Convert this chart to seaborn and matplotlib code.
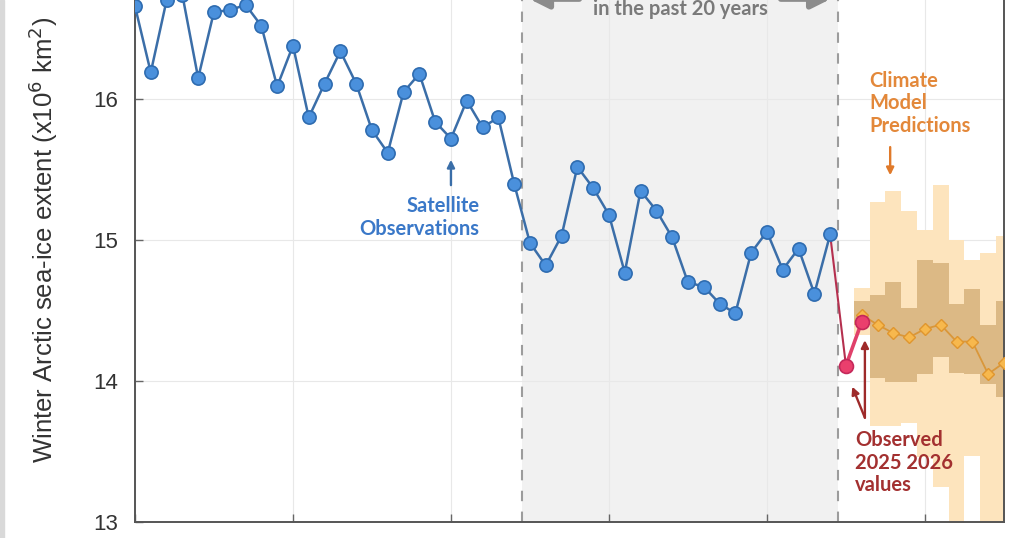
import numpy as np
import matplotlib
matplotlib.use("Agg")
import matplotlib.pyplot as plt
from matplotlib.patches import Rectangle
import seaborn as sns

# satellite observations (winter extent, million km2)
obs_years = list(range(1980, 2025))
obs_extent = [16.66, 16.19, 16.70, 16.74, 16.15, 16.62, 16.63, 16.67, 16.52, 16.09,
              16.38, 15.87, 16.11, 16.34, 16.11, 15.78, 15.62, 16.05, 16.18, 15.84,
              15.72, 15.99, 15.80, 15.87, 15.40, 14.98, 14.82, 15.03, 15.52, 15.37,
              15.18, 14.77, 15.35, 15.21, 15.02, 14.70, 14.67, 14.55, 14.48, 14.91,
              15.06, 14.79, 14.94, 14.62, 15.04]

# newest observed winters
new_years = [2025, 2026]
new_extent = [14.11, 14.42]

# climate model predictions
model_years = list(range(2026, 2036))
model_mean = [14.47, 14.40, 14.34, 14.31, 14.37, 14.40, 14.28, 14.28, 14.05, 14.13]
light_hi = [14.66, 15.27, 15.35, 15.21, 15.07, 15.39, 15.00, 14.86, 14.91, 15.03]
light_lo = [14.33, 13.68, 13.68, 13.70, 13.46, 13.25, 12.90, 13.47, 12.90, 12.90]
dark_hi = [14.57, 14.61, 14.70, 14.52, 14.86, 14.84, 14.55, 14.65, 14.40, 14.57]
dark_lo = [14.40, 14.02, 13.99, 13.99, 14.05, 14.17, 14.06, 14.05, 13.98, 13.89]

recent_window = (2004.5, 2024.5)
x_ticks = [1980, 1990, 2000, 2010, 2020, 2030]
y_ticks = [13, 14, 15, 16]

sns.set_theme(style="white")
plt.rcParams['font.family'] = ['Liberation Sans', 'DejaVu Sans']

fig = plt.figure(figsize=(10.24, 5.38), dpi=100)
ax = fig.add_axes([0.1318, 0.0297, 0.8486, 1.048])
fig.patches.append(Rectangle((0, 0), 0.004, 1, transform=fig.transFigure,
                             color='#d9d9d9', zorder=0))

# grey "past 20 years" window
ax.axvspan(*recent_window, color='#f1f1f1', zorder=0, lw=0)
for xv in recent_window:
    ax.axvline(xv, color='#9c9c9c', lw=1.5, ls=(0, (5, 5)), zorder=1)

# model spread as stepped bands
edges = [y - 0.5 for y in model_years] + [model_years[-1] + 0.5]
ax.fill_between(edges, light_lo + [light_lo[-1]], light_hi + [light_hi[-1]],
                step='post', color='#fde4bd', lw=0, zorder=1.2)
ax.fill_between(edges, dark_lo + [dark_lo[-1]], dark_hi + [dark_hi[-1]],
                step='post', color='#dcb985', lw=0, zorder=1.3)

sns.lineplot(x=model_years, y=model_mean, ax=ax, color='#d9973a', lw=1.3,
             marker='D', markersize=6, markerfacecolor='#f7b84d',
             markeredgecolor='#e0962e', markeredgewidth=1, zorder=3, legend=False)

sns.lineplot(x=obs_years, y=obs_extent, ax=ax, color='#3b6ea8', lw=1.8,
             marker='o', markersize=9.5, markerfacecolor='#4a90dc',
             markeredgecolor='#2f6cb0', markeredgewidth=1.2, zorder=4, legend=False)

# link last satellite year to new observations
sns.lineplot(x=[obs_years[-1], new_years[0]], y=[obs_extent[-1], new_extent[0]],
             ax=ax, color='#b5304f', lw=1.5, zorder=3.5, legend=False)
sns.lineplot(x=new_years, y=new_extent, ax=ax, color='#e0406a', lw=2.6,
             marker='o', markersize=10, markerfacecolor='#ea3f6d',
             markeredgecolor='#c4285a', markeredgewidth=1.2, zorder=5, legend=False)

ax.set_xlim(1980, 2035)
ax.set_ylim(13, 17)
ax.set_xticks(x_ticks)
ax.set_yticks(y_ticks)
ax.set_xticklabels([])
ax.grid(True, color='#e8e8e8', lw=0.8, zorder=0.5)
ax.set_axisbelow(True)
ax.tick_params(axis='both', direction='in', length=6, width=1, color='#666666',
               labelsize=16, labelcolor='#333333', pad=12)
ax.tick_params(axis='y', left=True)
ax.tick_params(axis='x', bottom=True)
for side in ['left', 'bottom', 'right']:
    ax.spines[side].set_color('#555555')
    ax.spines[side].set_linewidth(1.4)
ax.spines['top'].set_visible(False)

ax.set_ylabel('Winter Arctic sea-ice extent (x10$^6$ km$^2$)', fontsize=18.5,
              color='#333333')
ax.yaxis.set_label_coords(-0.086, 0.5)

ann = dict(family=['Lato', 'DejaVu Sans'], fontweight='bold', fontsize=14.5,
           linespacing=1.15)
arrow_kw = dict(arrowstyle='-|>', lw=1.7, mutation_scale=11, shrinkA=0, shrinkB=0)

# satellite label
ax.text(2001.8, 15.16, 'Satellite\nObservations', color='#3a78c8', ha='right',
        va='center', **ann)
ax.annotate('', xy=(2000, 15.57), xytext=(2000, 15.39),
            arrowprops=dict(color='#3a6ea8', **arrow_kw))

# model label
ax.text(2026.5, 15.97, 'Climate\nModel\nPredictions', color='#e3883a', ha='left',
        va='center', **ann)
ax.annotate('', xy=(2027.8, 15.46), xytext=(2027.8, 15.66),
            arrowprops=dict(color='#e07a2a', **arrow_kw))

# observed label
ax.text(2025.57, 13.42, 'Observed\n2025 2026\nvalues', color='#a33030', ha='left',
        va='center', **ann)
ax.annotate('', xy=(2026.2, 14.29), xytext=(2026.2, 13.74),
            arrowprops=dict(color='#9e2a2a', **arrow_kw))
ax.annotate('', xy=(2025.4, 13.96), xytext=(2026.2, 13.74),
            arrowprops=dict(color='#9e2a2a', **arrow_kw))

# header of the grey window (cut by the frame)
ax.text(sum(recent_window) / 2, 16.64, 'in the past 20 years', color='#7a7a7a',
        ha='center', va='center', **ann)
for x0, x1 in [(2008.3, recent_window[0] + 0.3), (2020.7, recent_window[1] - 0.3)]:
    ax.annotate('', xy=(x1, 16.71), xytext=(x0, 16.71),
                arrowprops=dict(arrowstyle='-|>', color='#8c8c8c', lw=4,
                                mutation_scale=28))

fig.savefig('out.png', dpi=100)
